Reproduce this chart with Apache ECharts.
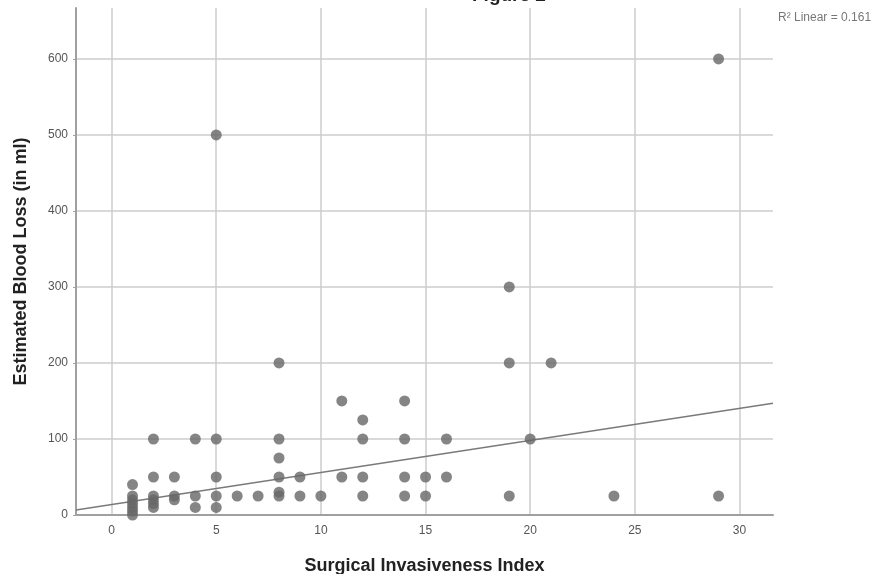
<!DOCTYPE html>
<html>
<head>
<meta charset="utf-8">
<title>Figure 2</title>
<script src="https://cdn.jsdelivr.net/npm/echarts@6/dist/echarts.min.js"></script>
<style>
  html, body { margin: 0; padding: 0; background: #fff; }
  #chart { width: 880px; height: 574px; }
</style>
</head>
<body>
<div id="chart"></div>
<script>
// Surgical invasiveness index (x) and estimated blood loss in ml (y), one entry per patient
const invasiveness = [
  1, 1, 1, 1, 1, 1, 1,
  2, 2, 2, 2, 2, 2,
  3, 3, 3,
  4, 4, 4,
  5, 5, 5, 5, 5,
  6, 7,
  8, 8, 8, 8, 8, 8,
  9, 9, 10,
  11, 11,
  12, 12, 12, 12,
  14, 14, 14, 14,
  15, 15,
  16, 16,
  19, 19, 19,
  20, 21, 24,
  29, 29
];
const bloodLoss = [
  40, 25, 20, 15, 10, 5, 0,
  100, 50, 25, 20, 15, 10,
  50, 25, 20,
  100, 25, 10,
  500, 100, 50, 25, 10,
  25, 25,
  200, 100, 75, 50, 30, 25,
  50, 25, 25,
  150, 50,
  125, 100, 50, 25,
  150, 100, 50, 25,
  50, 25,
  100, 50,
  300, 200, 25,
  100, 200, 25,
  600, 25
];

// Linear fit line endpoints (at the axis limits)
const fitX = [-1.7, 31.6];
const fitY = [6.6, 147];
const rSquared = 0.161;

const points = invasiveness.map((x, i) => [x, bloodLoss[i]]);
const fitLine = fitX.map((x, i) => [x, fitY[i]]);

const chart = echarts.init(document.getElementById('chart'), null, { renderer: 'canvas' });

const fontFamily = '"Liberation Sans", Arial, sans-serif';

chart.setOption({
  backgroundColor: '#ffffff',
  animation: false,
  grid: {
    left: 76, right: 107, top: 8, bottom: 59,
    containLabel: false,
    outerBoundsMode: 'none'
  },
  xAxis: {
    type: 'value',
    min: -1.7,
    max: 31.6,
    splitNumber: 7,
    name: 'Surgical Invasiveness Index',
    nameLocation: 'middle',
    nameGap: 42,
    nameTextStyle: { fontFamily, fontSize: 18, fontWeight: 'bold', color: '#222' },
    axisLine: { show: true, onZero: false, lineStyle: { color: '#a0a0a0', width: 2 } },
    axisTick: { show: false },
    axisLabel: {
      fontFamily, fontSize: 12, color: '#555', margin: 10,
      showMinLabel: false, showMaxLabel: false
    },
    splitLine: {
      show: true, showMinLine: false, showMaxLine: false,
      lineStyle: { color: '#cdcdcd', width: 1.5 }
    }
  },
  yAxis: {
    type: 'value',
    min: 0,
    max: 667,
    splitNumber: 6,
    name: 'Estimated Blood Loss (in ml)',
    nameLocation: 'middle',
    nameGap: 46,
    nameTextStyle: { fontFamily, fontSize: 18, fontWeight: 'bold', color: '#222' },
    axisLine: { show: true, onZero: false, lineStyle: { color: '#a0a0a0', width: 2 } },
    axisTick: { show: true, length: 3, lineStyle: { color: '#a0a0a0' } },
    axisLabel: {
      fontFamily, fontSize: 12, color: '#555', margin: 8,
      showMaxLabel: false
    },
    splitLine: {
      show: true, showMinLine: false, showMaxLine: false,
      lineStyle: { color: '#cdcdcd', width: 1.5 }
    }
  },
  series: [
    {
      type: 'scatter',
      data: points,
      symbol: 'circle',
      symbolSize: 11,
      itemStyle: { color: '#666666' },
      z: 3
    },
    {
      type: 'line',
      data: fitLine,
      symbol: 'none',
      lineStyle: { color: '#7a7a7a', width: 1.3 },
      z: 2
    }
  ],
  graphic: [
    {
      type: 'text',
      left: 472,
      top: -14,
      style: {
        text: 'Figure 2',
        font: 'bold 19px ' + fontFamily,
        fill: '#222'
      }
    },
    {
      type: 'text',
      left: 778,
      top: 12,
      style: {
        text: 'R\u00b2 Linear = ' + rSquared,
        font: '12px ' + fontFamily,
        fill: '#777'
      }
    }
  ]
});
</script>
</body>
</html>
